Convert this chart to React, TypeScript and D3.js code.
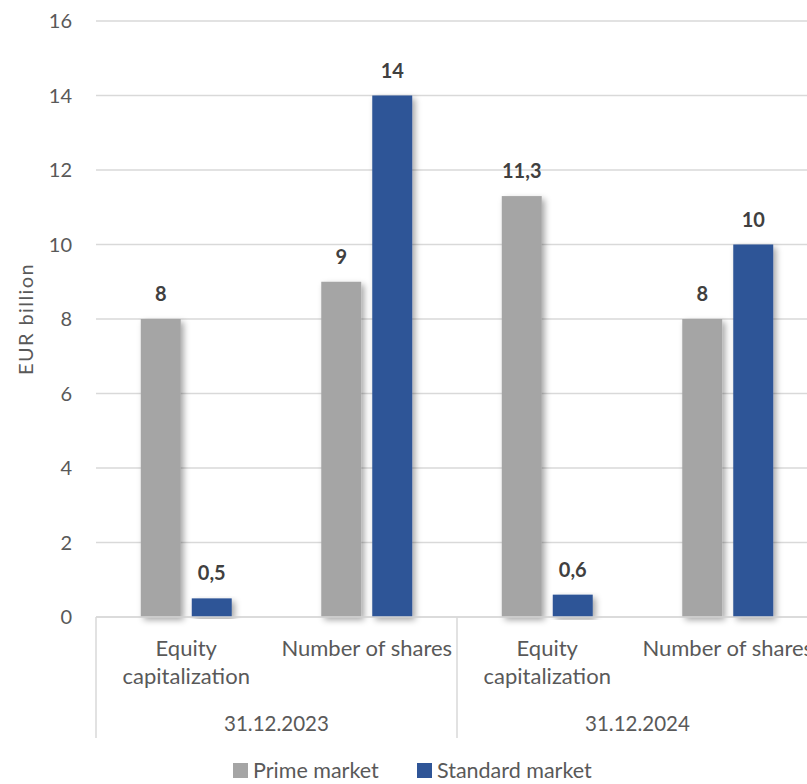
import React from "react";
import * as d3 from "d3";

const groups = ["31.12.2023", "31.12.2024"];
const metrics = ["Equity capitalization", "Number of shares"];
const metricLines = [["Equity", "capitalization"], ["Number of shares"]];
const seriesNames = ["Prime market", "Standard market"];
const primeValues = [8, 9, 11.3, 8];
const standardValues = [0.5, 14, 0.6, 10];
const yTicks = [0, 2, 4, 6, 8, 10, 12, 14, 16];

const COLORS = ["#A5A5A5", "#2F5597"];
const FONT = "Lato, 'Open Sans', sans-serif";

const W = 807;
const H = 784;

export default function App() {
  const cats = groups.flatMap((g) => metrics.map((m) => `${g}|${m}`));
  const values = [primeValues, standardValues];

  const left = 96;
  const step = 180.5;
  const x0 = d3
    .scaleBand<string>()
    .domain(cats)
    .range([left, left + step * cats.length])
    .paddingInner(0.496)
    .paddingOuter(0.248);
  const x1 = d3
    .scaleBand<string>()
    .domain(seriesNames)
    .range([0, x0.bandwidth()])
    .paddingInner(0.216);
  const y = d3.scaleLinear().domain([0, 16]).range([617, 21]);

  const fmt = (v: number) => String(v).replace(".", ",");
  const axisBottomY = y(0);
  const sepBottom = 738;
  const groupWidth = step * metrics.length;

  return (
    <svg
      width={W}
      height={H}
      style={{ position: "absolute", left: 0, top: 0, background: "#fff" }}
      fontFamily={FONT}
    >
      <defs>
        <filter id="shadow" x="-30%" y="-10%" width="160%" height="120%">
          <feDropShadow dx="3" dy="3" stdDeviation="3" floodColor="#000" floodOpacity="0.35" />
        </filter>
      </defs>
      <rect x={0} y={0} width={W} height={H} fill="#fff" />
      {yTicks.map((t) => (
        <line
          key={t}
          x1={left}
          x2={W}
          y1={y(t)}
          y2={y(t)}
          stroke="#D9D9D9"
          strokeWidth={1.5}
        />
      ))}
      {yTicks.map((t) => (
        <text
          key={`l${t}`}
          x={72}
          y={y(t)}
          dy="0.35em"
          textAnchor="end"
          fontSize={20}
          fill="#595959"
        >
          {t}
        </text>
      ))}
      <text
        transform={`translate(33,319) rotate(-90)`}
        textAnchor="middle"
        fontSize={20}
        letterSpacing={1.4}
        fill="#595959"
      >
        EUR billion
      </text>
      {cats.map((c, i) =>
        seriesNames.map((s, si) => {
          const v = values[si][i];
          const bx = (x0(c) ?? 0) + (x1(s) ?? 0);
          return (
            <rect
              key={`${c}-${s}`}
              x={bx}
              y={y(v)}
              width={x1.bandwidth()}
              height={y(0) - y(v)}
              fill={COLORS[si]}
              filter="url(#shadow)"
            />
          );
        })
      )}
      {cats.map((c, i) =>
        seriesNames.map((s, si) => {
          const v = values[si][i];
          const bx = (x0(c) ?? 0) + (x1(s) ?? 0) + x1.bandwidth() / 2;
          return (
            <text
              key={`d${c}-${s}`}
              x={bx}
              y={y(v) - 18}
              textAnchor="middle"
              fontSize={20}
              fontWeight="bold"
              fill="#404040"
            >
              {fmt(v)}
            </text>
          );
        })
      )}
      <line x1={left} x2={W} y1={axisBottomY} y2={axisBottomY} stroke="#D9D9D9" strokeWidth={1.5} />
      {d3.range(groups.length + 1).map((k) => (
        <line
          key={`s${k}`}
          x1={left + k * groupWidth}
          x2={left + k * groupWidth}
          y1={axisBottomY}
          y2={sepBottom}
          stroke="#D9D9D9"
          strokeWidth={1.5}
        />
      ))}
      {cats.map((c, i) => {
        const lines = metricLines[i % metrics.length];
        const cx = (x0(c) ?? 0) + x0.bandwidth() / 2;
        return (
          <text key={`c${c}`} textAnchor="middle" fontSize={22} fill="#595959">
            {lines.map((ln, li) => (
              <tspan key={li} x={cx} y={656 + li * 28}>
                {ln}
              </tspan>
            ))}
          </text>
        );
      })}
      {groups.map((g, gi) => (
        <text
          key={g}
          x={left + gi * groupWidth + groupWidth / 2}
          y={731}
          textAnchor="middle"
          fontSize={20.5}
          fill="#595959"
        >
          {g}
        </text>
      ))}
      {seriesNames.map((s, si) => {
        const lx = [233, 417][si];
        return (
          <g key={`lg${s}`}>
            <rect x={lx} y={763} width={15} height={15} fill={COLORS[si]} />
            <text x={lx + 20} y={778} fontSize={21.5} fill="#595959">
              {s}
            </text>
          </g>
        );
      })}
    </svg>
  );
}
